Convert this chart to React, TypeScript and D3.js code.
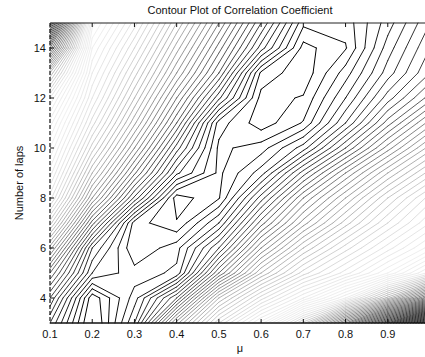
import React, { useEffect, useRef } from 'react';
import * as d3 from 'd3';

// grid: mu columns, lap rows
const muValues = [0.1, 0.2, 0.3, 0.4, 0.5, 0.6, 0.7, 0.8, 0.9, 1.0];
const lapValues = [3, 4, 5, 6, 7, 8, 9, 10, 11, 12, 13, 14, 15];

// correlation coefficient, one row per lap count (3 .. 15)
const corrLap3 = [0.78, 0.93, 0.80, 0.55, 0.36, 0.21, 0.01, -0.22, -0.48, -0.78];
const corrLap4 = [0.72, 0.915, 0.83, 0.70, 0.48, 0.35, 0.24, 0.12, -0.05, -0.25];
const corrLap5 = [0.64, 0.82, 0.852, 0.835, 0.64, 0.48, 0.37, 0.29, 0.20, 0.09];
const corrLap6 = [0.53, 0.78, 0.878, 0.848, 0.74, 0.58, 0.46, 0.37, 0.29, 0.21];
const corrLap7 = [0.41, 0.67, 0.87, 0.898, 0.82, 0.67, 0.55, 0.45, 0.36, 0.28];
const corrLap8 = [0.31, 0.56, 0.745, 0.912, 0.882, 0.75, 0.62, 0.52, 0.42, 0.33];
const corrLap9 = [0.25, 0.48, 0.655, 0.815, 0.885, 0.83, 0.71, 0.60, 0.50, 0.41];
const corrLap10 = [0.20, 0.41, 0.58, 0.75, 0.885, 0.87, 0.81, 0.70, 0.59, 0.49];
const corrLap11 = [0.15, 0.35, 0.515, 0.68, 0.87, 0.912, 0.878, 0.78, 0.67, 0.57];
const corrLap12 = [0.08, 0.30, 0.46, 0.62, 0.775, 0.908, 0.898, 0.82, 0.73, 0.65];
const corrLap13 = [-0.04, 0.26, 0.41, 0.56, 0.70, 0.885, 0.915, 0.85, 0.77, 0.70];
const corrLap14 = [-0.24, 0.22, 0.36, 0.51, 0.65, 0.79, 0.908, 0.882, 0.79, 0.72];
const corrLap15 = [-0.46, 0.17, 0.31, 0.46, 0.60, 0.74, 0.875, 0.872, 0.81, 0.74];

const corrGrid = [
  corrLap3, corrLap4, corrLap5, corrLap6, corrLap7, corrLap8, corrLap9,
  corrLap10, corrLap11, corrLap12, corrLap13, corrLap14, corrLap15,
];

const xTicks = [0.1, 0.2, 0.3, 0.4, 0.5, 0.6, 0.7, 0.8, 0.9];
const yTicks = [4, 6, 8, 10, 12, 14];

const FONT = '"Liberation Sans", Arial, Helvetica, sans-serif';

function App() {
  const svgRef = useRef<SVGSVGElement>(null);

  useEffect(() => {
    const width = 425;
    const height = 357;
    const plot = { left: 50, right: 430, top: 23, bottom: 323 };

    const svg = d3.select(svgRef.current);
    svg.selectAll('*').remove();
    svg.attr('width', width).attr('height', height);

    const x = d3.scaleLinear().domain([0.1, 1.0]).range([plot.left, plot.right]);
    const y = d3.scaleLinear().domain([3, 15]).range([plot.bottom, plot.top]);

    // grid index -> data value
    const colToMu = d3.scaleLinear().domain(d3.range(muValues.length)).range(muValues);
    const rowToLap = d3.scaleLinear().domain(d3.range(lapValues.length)).range(lapValues);

    // contour levels every 0.02; dark near the ridge, light in the middle, dark again far out
    const levels = d3.range(-78, 91, 2).map(v => v / 100);
    const gray = d3.scaleLinear()
      .domain([-0.78, -0.46, -0.2, 0, 0.1, 0.2, 0.3, 0.4, 0.5, 0.6, 0.7, 0.8, 0.9])
      .range([30, 55, 125, 200, 235, 240, 228, 205, 170, 125, 75, 35, 0])
      .clamp(true);

    const g = svg.append('g');

    // marching squares, one path per level
    const nx = muValues.length;
    const ny = lapValues.length;
    levels.forEach(level => {
      const p = d3.path();
      for (let j = 0; j < ny - 1; j++) {
        for (let i = 0; i < nx - 1; i++) {
          const c = [
            [i, j, corrGrid[j][i]],
            [i + 1, j, corrGrid[j][i + 1]],
            [i + 1, j + 1, corrGrid[j + 1][i + 1]],
            [i, j + 1, corrGrid[j + 1][i]],
          ];
          const hi = c.map(d => d[2] >= level);
          const pts: (number[] | null)[] = [0, 1, 2, 3].map(k => {
            const a = c[k], b = c[(k + 1) % 4];
            if (hi[k] === hi[(k + 1) % 4]) return null;
            const t = (level - a[2]) / (b[2] - a[2]);
            return [a[0] + t * (b[0] - a[0]), a[1] + t * (b[1] - a[1])];
          });
          const toPx = (q: number[]) => [x(colToMu(q[0])), y(rowToLap(q[1]))];
          const seg = (e1: number, e2: number) => {
            const a = toPx(pts[e1] as number[]);
            const b = toPx(pts[e2] as number[]);
            p.moveTo(a[0], a[1]);
            p.lineTo(b[0], b[1]);
          };
          const found = pts.map((q, k) => (q ? k : -1)).filter(k => k >= 0);
          if (found.length === 2) {
            seg(found[0], found[1]);
          } else if (found.length === 4) {
            const centre = (c[0][2] + c[1][2] + c[2][2] + c[3][2]) / 4 >= level;
            // cut off the corners that differ from the centre
            for (let k = 0; k < 4; k++) {
              if (hi[k] !== centre) seg((k + 3) % 4, k);
            }
          }
        }
      }
      const v = Math.round(gray(level));
      g.append('path')
        .attr('d', p.toString())
        .attr('fill', 'none')
        .attr('stroke', `rgb(${v},${v},${v})`)
        .attr('stroke-width', 1)
        .attr('stroke-linecap', 'round');
    });

    // frame
    svg.append('line')
      .attr('x1', plot.left).attr('x2', plot.right)
      .attr('y1', plot.top).attr('y2', plot.top)
      .attr('stroke', '#222').attr('stroke-width', 1);
    svg.append('line')
      .attr('x1', plot.left).attr('x2', plot.right)
      .attr('y1', plot.bottom).attr('y2', plot.bottom)
      .attr('stroke', '#111').attr('stroke-width', 1.6);
    svg.append('line')
      .attr('x1', plot.left).attr('x2', plot.left)
      .attr('y1', plot.top).attr('y2', plot.bottom)
      .attr('stroke', '#111').attr('stroke-width', 1.2)
      .attr('stroke-dasharray', '4,2');

    // ticks pointing inward
    xTicks.slice(1).forEach(t => {
      svg.append('line')
        .attr('x1', x(t)).attr('x2', x(t))
        .attr('y1', plot.bottom).attr('y2', plot.bottom - 4)
        .attr('stroke', '#111');
      svg.append('line')
        .attr('x1', x(t)).attr('x2', x(t))
        .attr('y1', plot.top).attr('y2', plot.top + 4)
        .attr('stroke', '#111');
    });
    yTicks.forEach(t => {
      svg.append('line')
        .attr('x1', plot.left).attr('x2', plot.left + 4)
        .attr('y1', y(t)).attr('y2', y(t))
        .attr('stroke', '#111');
    });

    // tick labels
    svg.append('g').selectAll('text')
      .data(xTicks)
      .join('text')
      .attr('x', d => x(d))
      .attr('y', plot.bottom + 15)
      .attr('text-anchor', 'middle')
      .attr('font-family', FONT)
      .attr('font-size', 11)
      .attr('fill', '#111')
      .text(d => d.toFixed(1));

    svg.append('g').selectAll('text')
      .data(yTicks)
      .join('text')
      .attr('x', plot.left - 4)
      .attr('y', d => y(d) + 4)
      .attr('text-anchor', 'end')
      .attr('font-family', FONT)
      .attr('font-size', 11)
      .attr('fill', '#111')
      .text(d => d);

    // title and axis labels
    svg.append('text')
      .attr('x', 240).attr('y', 14)
      .attr('text-anchor', 'middle')
      .attr('font-family', FONT)
      .attr('font-size', 11)
      .attr('fill', '#111')
      .text('Contour Plot of Correlation Coefficient');

    svg.append('text')
      .attr('x', 240).attr('y', 352)
      .attr('text-anchor', 'middle')
      .attr('font-family', FONT)
      .attr('font-size', 11)
      .attr('fill', '#111')
      .text('μ');

    svg.append('text')
      .attr('transform', 'translate(23,183) rotate(-90)')
      .attr('text-anchor', 'middle')
      .attr('font-family', FONT)
      .attr('font-size', 11)
      .attr('fill', '#111')
      .text('Number of laps');
  }, []);

  return <svg ref={svgRef} style={{ position: 'absolute', left: 0, top: 0, background: '#fff' }}></svg>;
}

export default App;
